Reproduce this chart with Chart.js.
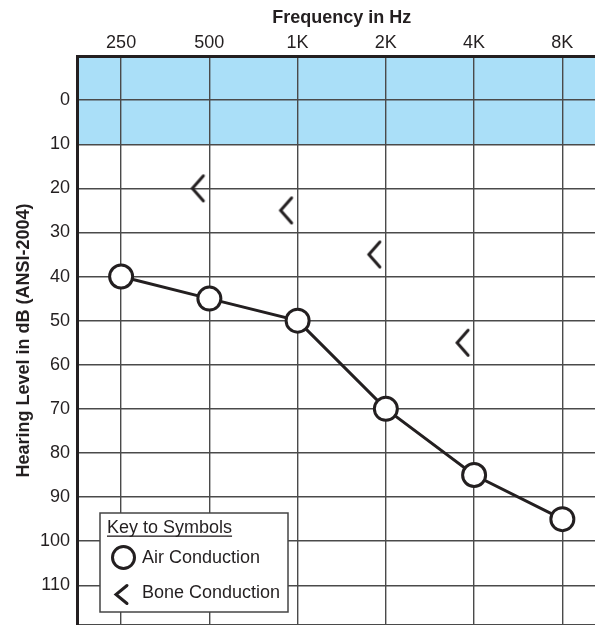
<!DOCTYPE html>
<html>
<head>
<meta charset="utf-8">
<script src="https://cdn.jsdelivr.net/npm/chart.js@4"></script>
<style>
  html, body { margin: 0; padding: 0; background: #fff; overflow: hidden; }
  canvas { display: block; }
</style>
</head>
<body>
<canvas id="audiogram" width="595" height="625"></canvas>
<script>
// chart values
const freqLabels = ['250', '500', '1K', '2K', '4K', '8K'];
const airConduction = [40, 45, 50, 70, 85, 95];
const boneConduction = [null, 20, 25, 35, 55, null];
const levelLabels = [0, 10, 20, 30, 40, 50, 60, 70, 80, 90, 100, 110];
const normalBand = [-10, 10];

const ink = '#231f20';
const fontFamily = '"Liberation Sans", Arial, sans-serif';

// draw a "<" glyph, tip at (x, y)
function drawBracket(ctx, x, y, w, h, lw) {
    ctx.save();
    ctx.strokeStyle = ink;
    ctx.lineWidth = lw;
    ctx.lineCap = 'round';
    ctx.lineJoin = 'miter';
    ctx.beginPath();
    ctx.moveTo(x + w, y - h / 2);
    ctx.lineTo(x, y);
    ctx.lineTo(x + w, y + h / 2);
    ctx.stroke();
    ctx.restore();
}

// point image for bone conduction: glyph sits left of the frequency line
const boneSymbol = document.createElement('canvas');
boneSymbol.width = 48;
boneSymbol.height = 32;
drawBracket(boneSymbol.getContext('2d'), 7, 16, 11, 25, 3);

// the chart is cut off on the right and bottom, as in the printed audiogram
const xMin = -0.5;
const xMax = 5.37;

// light blue normal-hearing band
const bandPlugin = {
    id: 'band',
    beforeDraw(chart) {
        const { ctx, chartArea, scales } = chart;
        const y1 = scales.y.getPixelForValue(normalBand[0]);
        const y2 = scales.y.getPixelForValue(normalBand[1]);
        ctx.save();
        ctx.fillStyle = '#aadff8';
        ctx.fillRect(chartArea.left, y1, chartArea.right - chartArea.left, y2 - y1);
        ctx.restore();
    }
};

// axis title over the full (uncut) frequency range, plus the key box
const keyPlugin = {
    id: 'key',
    afterDraw(chart) {
        const ctx = chart.ctx;
        const xs = chart.scales.x;
        ctx.save();
        ctx.fillStyle = ink;
        ctx.font = 'bold 18px ' + fontFamily;
        ctx.textAlign = 'center';
        ctx.textBaseline = 'alphabetic';
        const mid = (xs.getPixelForValue(-0.5) + xs.getPixelForValue(freqLabels.length - 0.5)) / 2;
        ctx.fillText('Frequency in Hz', mid, 23);

        ctx.textAlign = 'left';
        ctx.fillStyle = '#fff';
        ctx.fillRect(100, 513, 188, 99);
        ctx.strokeStyle = '#444';
        ctx.lineWidth = 1.5;
        ctx.strokeRect(100, 513, 188, 99);

        ctx.fillStyle = ink;
        ctx.font = '18px ' + fontFamily;
        ctx.fillText('Key to Symbols', 107, 533);
        const w = ctx.measureText('Key to Symbols').width;
        ctx.fillRect(107, 535.5, w, 1.3);

        ctx.beginPath();
        ctx.arc(123.5, 557.5, 11, 0, Math.PI * 2);
        ctx.fillStyle = '#fff';
        ctx.fill();
        ctx.lineWidth = 3;
        ctx.strokeStyle = ink;
        ctx.stroke();
        ctx.fillStyle = ink;
        ctx.fillText('Air Conduction', 142, 563);

        drawBracket(ctx, 116, 594.5, 11, 18, 3);
        ctx.fillText('Bone Conduction', 142, 598);
        ctx.restore();
    }
};

const ctx = document.getElementById('audiogram').getContext('2d');
const audiogram = new Chart(ctx, {
    type: 'line',
    data: {
        datasets: [{
            label: 'Air Conduction',
            data: airConduction.map((v, i) => ({ x: i, y: v })),
            borderColor: ink,
            borderWidth: 3,
            pointRadius: 11.5,
            pointBorderWidth: 3,
            pointBackgroundColor: '#fff',
            pointBorderColor: ink,
            tension: 0
        }, {
            label: 'Bone Conduction',
            data: boneConduction.map((v, i) => ({ x: i, y: v })),
            showLine: false,
            pointStyle: boneSymbol
        }]
    },
    options: {
        responsive: false,
        animation: false,
        events: [],
        layout: { padding: 0, autoPadding: false },
        plugins: {
            legend: { display: false },
            tooltip: { enabled: false }
        },
        scales: {
            x: {
                type: 'linear',
                position: 'top',
                min: xMin,
                max: xMax,
                grid: { color: '#4a4a4a', lineWidth: 1.4, drawTicks: false },
                border: { color: ink, width: 3 },
                ticks: {
                    color: ink,
                    padding: 2,
                    font: { family: fontFamily, size: 18 },
                    callback: function (v) { return freqLabels[v]; }
                },
                afterBuildTicks(scale) {
                    scale.ticks = freqLabels.map((_, i) => ({ value: i }));
                },
                afterFit(scale) {
                    scale.height = 56;
                    scale.paddingLeft = 0;
                    scale.paddingRight = 0;
                }
            },
            y: {
                reverse: true,
                min: -10,
                max: 119,
                grid: { color: '#4a4a4a', lineWidth: 1.4, drawTicks: false },
                border: { color: ink, width: 3 },
                ticks: {
                    stepSize: 10,
                    padding: 7,
                    color: ink,
                    font: { family: fontFamily, size: 18 },
                    callback: function (v) { return levelLabels.includes(v) ? String(v) : ''; }
                },
                title: {
                    display: true,
                    text: 'Hearing Level in dB (ANSI-2004)',
                    color: ink,
                    padding: { top: 13, bottom: 0 },
                    font: { family: fontFamily, size: 18, weight: 'bold' }
                },
                afterFit(scale) {
                    scale.width = 77;
                    scale.paddingTop = 0;
                    scale.paddingBottom = 0;
                }
            }
        }
    },
    plugins: [bandPlugin, keyPlugin]
});
</script>
</body>
</html>
